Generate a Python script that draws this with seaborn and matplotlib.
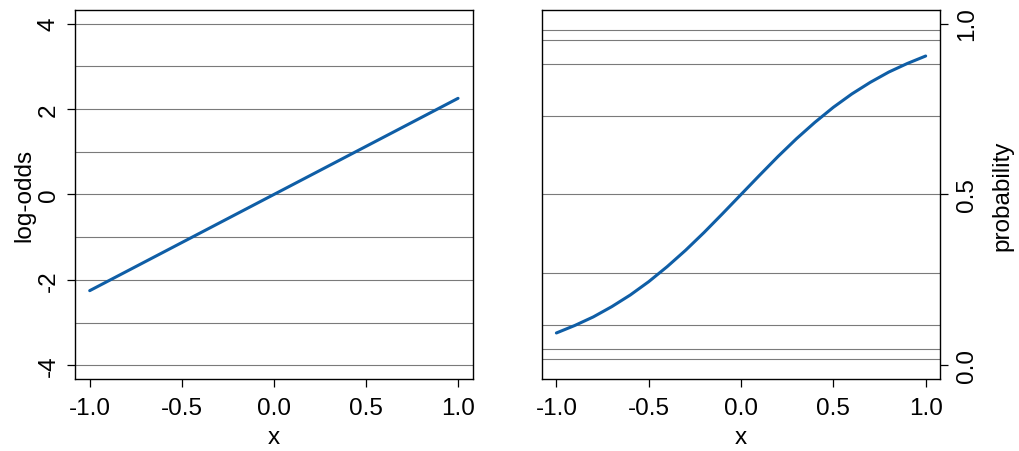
import numpy as np
import pandas as pd
import matplotlib
matplotlib.use("Agg")
import matplotlib.pyplot as plt
import seaborn as sns

# values
x_line = [-1.0, 1.0]
logodds = [-2.25, 2.25]
logodds_grid = [-4, -3, -2, -1, 0, 1, 2, 3, 4]

x_curve = [-1.0, -0.9, -0.8, -0.7, -0.6, -0.5, -0.4, -0.3, -0.2, -0.1, 0.0,
           0.1, 0.2, 0.3, 0.4, 0.5, 0.6, 0.7, 0.8, 0.9, 1.0]
prob = [0.095, 0.117, 0.142, 0.172, 0.206, 0.245, 0.289, 0.337, 0.389, 0.444, 0.5,
        0.556, 0.611, 0.663, 0.711, 0.755, 0.794, 0.828, 0.858, 0.883, 0.905]
prob_grid = [0.018, 0.047, 0.119, 0.269, 0.5, 0.731, 0.881, 0.953, 0.982]

x_ticks = [-1.0, -0.5, 0.0, 0.5, 1.0]
left_ticks = [-4, -2, 0, 2, 4]
right_ticks = [0.0, 0.5, 1.0]

sns.set_theme(style="white")
plt.rcParams["font.family"] = ["Liberation Sans", "DejaVu Sans"]
plt.rcParams["text.color"] = "black"
plt.rcParams["axes.labelcolor"] = "black"
plt.rcParams["xtick.color"] = "black"
plt.rcParams["ytick.color"] = "black"

line_col = "#0f5ea6"
grid_col = "#7a7a7a"
fs = 17.5

fig = plt.figure(figsize=(10.2, 4.52), dpi=100)
ax1 = fig.add_axes([0.0735, 0.159, 0.390, 0.817])
ax2 = fig.add_axes([0.531, 0.159, 0.391, 0.817])

for g in logodds_grid:
    ax1.axhline(g, color=grid_col, lw=0.8, zorder=1)
for g in prob_grid:
    ax2.axhline(g, color=grid_col, lw=0.8, zorder=1)

df1 = pd.DataFrame({"x": x_line, "y": logodds})
df2 = pd.DataFrame({"x": x_curve, "y": prob})
sns.lineplot(data=df1, x="x", y="y", ax=ax1, color=line_col, lw=2.2, zorder=3)
sns.lineplot(data=df2, x="x", y="y", ax=ax2, color=line_col, lw=2.2, zorder=3)

ax1.set_xlim(-1.08, 1.08)
ax2.set_xlim(-1.08, 1.08)
ax1.set_ylim(-4.32, 4.32)
ax2.set_ylim(-0.04, 1.04)

for ax in (ax1, ax2):
    ax.set_xticks(x_ticks)
    ax.set_xticklabels([f"{v:.1f}" for v in x_ticks], fontsize=fs)
    ax.set_xlabel("x", fontsize=fs, labelpad=5)
    for s in ax.spines.values():
        s.set_visible(True)
        s.set_color("black")
        s.set_linewidth(1.0)
    ax.tick_params(direction="out", length=6, width=0.9, color="black",
                   bottom=True, pad=5)
    ax.tick_params(axis="x", pad=7)

ax1.set_yticks(left_ticks)
ax1.set_yticklabels([str(v) for v in left_ticks], fontsize=fs,
                    rotation=90, va="center")
ax1.tick_params(axis="y", left=True)
ax1.set_ylabel("log-odds", fontsize=fs, labelpad=2)

ax2.yaxis.tick_right()
ax2.yaxis.set_label_position("right")
ax2.set_yticks(right_ticks)
ax2.set_yticklabels([f"{v:.1f}" for v in right_ticks], fontsize=fs,
                    rotation=90, va="center")
ax2.tick_params(axis="y", right=True, left=False)
ax2.set_ylabel("probability", fontsize=fs, labelpad=10)

fig.savefig("out.png", dpi=100)
